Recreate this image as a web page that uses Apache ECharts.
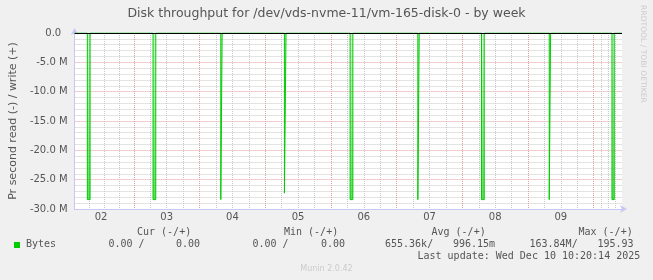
<!DOCTYPE html>
<html>
<head>
<meta charset="utf-8">
<script src="https://cdn.jsdelivr.net/npm/echarts@6/dist/echarts.min.js"></script>
<style>
html,body{margin:0;padding:0;background:#f0f0f0;}
#chart{width:653px;height:280px;}
</style>
</head>
<body>
<div id="chart"></div>
<script>
// ---- data ----
const titleText = 'Disk throughput for /dev/vds-nvme-11/vm-165-disk-0 - by week';
const axisName = 'Pr second read (-) / write (+)';
const rangeStart = '2025-12-02 02:20';
const rangeEnd = '2025-12-10 10:20';
// read spikes (bytes/s, shown negative), in millions
const spikeStart = ['2025-12-02 07:00','2025-12-03 07:00','2025-12-04 07:45','2025-12-05 07:00','2025-12-06 07:00','2025-12-07 07:45','2025-12-08 07:00','2025-12-09 07:45','2025-12-10 06:40'];
const spikeEnd   = ['2025-12-02 08:00','2025-12-03 08:00','2025-12-04 08:15','2025-12-05 07:35','2025-12-06 08:00','2025-12-07 08:15','2025-12-08 08:00','2025-12-09 08:15','2025-12-10 07:30'];
const spikeRead  = [28.4, 28.4, 28.4, 27.3, 28.4, 28.4, 28.4, 28.4, 28.4];
const legendHeaders = ['Cur (-/+)', 'Min (-/+)', 'Avg (-/+)', 'Max (-/+)'];
const readVals  = ['0.00 /', '0.00 /', '655.36k/', '163.84M/'];
const writeVals = ['0.00', '0.00', '996.15m', '195.93'];
const seriesName = 'Bytes';
const lastUpdate = 'Last update: Wed Dec 10 10:20:14 2025';
const footer = 'Munin 2.0.42';
const sideText = 'RRDTOOL / TOBI OETIKER';

// ---- helpers ----
function t(s){const [d,hm]=s.split(' ');const [Y,M,D]=d.split('-').map(Number);const [h,m]=hm.split(':').map(Number);return new Date(Y,M-1,D,h,m).getTime();}
const HOUR = 3600000, DAY = 24*HOUR;
const T0 = t(rangeStart), T1 = t(rangeEnd);
const data = [[T0,0]];
for (let i=0;i<spikeStart.length;i++){
  const s=t(spikeStart[i]), e=t(spikeEnd[i]), v=-spikeRead[i]*1e6;
  data.push([s,0],[s,v],[e,v],[e,0]);
}
data.push([T1,0]);

const SANS = 'DejaVu Sans', MONO = 'DejaVu Sans Mono', TXT = '#555';
const RED = '#e39c9c', GRAY = '#c8c8c8', AX = '#c8c8f4';

const chart = echarts.init(document.getElementById('chart'), null, {renderer:'canvas'});

const hdrX = [137, 284, 431.5, 578.5];
const readX = [108.5, 252.5, 385, 529.5];
const writeX = [176, 321, 453, 597.5];
const g = [];
const mono = '10px "'+MONO+'"';
legendHeaders.forEach((h,i)=>g.push({type:'text', x:hdrX[i], y:232, style:{text:h, font:mono, fill:TXT, verticalAlign:'middle', align:'left'}}));
readVals.forEach((h,i)=>g.push({type:'text', x:readX[i], y:244.5, style:{text:h, font:mono, fill:TXT, verticalAlign:'middle', align:'left'}}));
writeVals.forEach((h,i)=>g.push({type:'text', x:writeX[i], y:244.5, style:{text:h, font:mono, fill:TXT, verticalAlign:'middle', align:'left'}}));
g.push({type:'rect', shape:{x:14, y:242, width:6, height:6}, style:{fill:'#00cc00', lineWidth:0}});
g.push({type:'text', x:26, y:244.5, style:{text:seriesName, font:mono, fill:TXT, verticalAlign:'middle', align:'left'}});
g.push({type:'text', x:417.5, y:256.7, style:{text:lastUpdate, font:mono, fill:TXT, verticalAlign:'middle', align:'left'}});
g.push({type:'text', x:326.5, y:269, style:{text:footer, font:'8px "'+SANS+'"', fill:'#cbcbcb', verticalAlign:'middle', align:'center'}});
g.push({type:'text', x:642.5, y:54, rotation:-Math.PI/2, style:{text:sideText, font:'7.6px "'+SANS+'"', fill:'#cbcbcb', verticalAlign:'middle', align:'center'}});

const option = {
  backgroundColor:'#f0f0f0',
  animation:false,
  title:{text:titleText, left:'center', top:7, padding:0, textStyle:{fontFamily:SANS, fontSize:12.5, fontWeight:'normal', color:TXT}},
  grid:{left:72, right:31, top:33, bottom:71, show:true, backgroundColor:'#ffffff', borderWidth:0},
  xAxis:[
    {type:'time', min:T0, max:T1, minInterval:DAY, maxInterval:DAY,
     axisLine:{show:true, onZero:false, lineStyle:{color:AX, width:1}, symbol:['none','arrow'], symbolSize:[6,7], symbolOffset:[0,5]},
     axisTick:{show:false}, axisLabel:{show:false},
     splitLine:{show:true, showMinLine:false, showMaxLine:false, lineStyle:{color:RED, type:[1,1], width:1}},
     minorTick:{show:false, splitNumber:4},
     minorSplitLine:{show:true, lineStyle:{color:GRAY, type:[1,1], width:1}}},
    {type:'time', min:T0-12*HOUR, max:T1-12*HOUR, minInterval:DAY, maxInterval:DAY, position:'bottom',
     axisLine:{show:false}, axisTick:{show:false}, splitLine:{show:false},
     axisLabel:{show:true, margin:3, color:TXT, fontFamily:SANS, fontSize:10,
       formatter:(v)=>String(new Date(v).getDate()).padStart(2,'0')}}
  ],
  yAxis:{type:'value', min:-30e6, max:0, interval:5e6,
     axisLine:{show:true, lineStyle:{color:AX, width:1}, symbol:['none','arrow'], symbolSize:[6,7], symbolOffset:[0,5]},
     axisTick:{show:false},
     axisLabel:{margin:7, color:TXT, fontFamily:SANS, fontSize:10,
       formatter:(v)=> v===0 ? '0.0  ' : (v/1e6).toFixed(1)+' M'},
     splitLine:{show:true, lineStyle:{color:RED, type:[1,1], width:1}},
     minorTick:{show:false, splitNumber:5},
     minorSplitLine:{show:true, lineStyle:{color:GRAY, type:[1,1], width:1}},
     name:axisName, nameLocation:'middle', nameGap:55,
     nameTextStyle:{fontFamily:SANS, fontSize:11, color:TXT}},
  series:[{
    name:seriesName, type:'line', xAxisIndex:0, data:data, symbol:'none',
    lineStyle:{color:'#00cc00', width:1},
    areaStyle:{color:new echarts.graphic.LinearGradient(0,0,0,1,[{offset:0,color:'rgba(0,204,0,0.25)'},{offset:1,color:'rgba(0,204,0,0.9)'}])},
    markLine:{silent:true, symbol:'none', label:{show:false}, data:[{yAxis:0}], lineStyle:{color:'#000', type:'solid', width:1}}
  }],
  graphic:g
};
chart.setOption(option);
</script>
</body>
</html>
